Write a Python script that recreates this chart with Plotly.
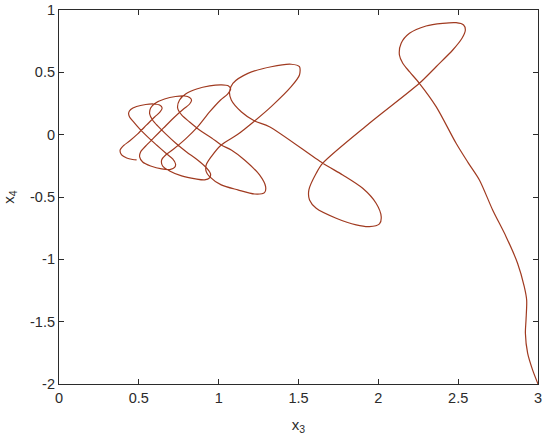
import plotly.graph_objects as go

# trajectory x3 (horizontal) and x4 (vertical)
x3 = [3.000, 2.966, 2.935, 2.921, 2.925, 2.929, 2.914, 2.872, 2.800, 2.716, 2.633, 2.560, 2.487, 2.362, 2.257,
      2.195, 2.153, 2.132, 2.143, 2.195, 2.299, 2.403, 2.487, 2.534, 2.545, 2.524, 2.466, 2.362, 2.257,
      1.944, 1.652,
      1.611, 1.565, 1.569, 1.611, 1.736, 1.861, 1.944, 2.007, 2.018, 1.986, 1.902, 1.777, 1.652,
      1.318, 1.225, 1.143, 1.079, 1.068, 1.089, 1.183, 1.329, 1.454, 1.506, 1.506, 1.454, 1.329, 1.225,
      1.120, 1.016,
      0.954, 0.922, 0.922, 0.943, 1.016, 1.120, 1.225, 1.287, 1.294, 1.256, 1.162, 1.079, 1.016,
      0.956, 0.880, 0.818, 0.768, 0.743, 0.755, 0.793, 0.862, 0.943, 1.018, 1.062, 1.075, 1.056, 1.012,
      0.943, 0.868, 0.793, 0.718, 0.668, 0.643,
      0.649, 0.693, 0.768, 0.855, 0.912, 0.943, 0.949, 0.924, 0.868, 0.799, 0.730, 0.668, 0.618, 0.586,
      0.568, 0.574, 0.605, 0.661, 0.730, 0.787, 0.818, 0.830, 0.818, 0.780, 0.724, 0.655, 0.593, 0.543,
      0.511, 0.505, 0.524, 0.574, 0.643, 0.699, 0.724, 0.730, 0.712, 0.668, 0.611, 0.555, 0.505, 0.467,
      0.442, 0.436, 0.449, 0.486, 0.543, 0.593, 0.630, 0.646, 0.633, 0.599, 0.549, 0.493, 0.442, 0.405,
      0.383, 0.392, 0.424, 0.461, 0.486]
x4 = [-2.000, -1.887, -1.753, -1.593, -1.486, -1.326, -1.219, -1.031, -0.818, -0.604, -0.363, -0.220, -0.069, 0.225, 0.412,
      0.505, 0.573, 0.639, 0.733, 0.813, 0.872, 0.893, 0.898, 0.880, 0.840, 0.773, 0.679, 0.545, 0.412,
      0.091, -0.229,
      -0.310, -0.443, -0.524, -0.590, -0.670, -0.724, -0.738, -0.716, -0.658, -0.550, -0.430, -0.323, -0.229,
      0.064, 0.110, 0.182, 0.278, 0.345, 0.412, 0.492, 0.545, 0.565, 0.545, 0.479, 0.385, 0.225, 0.110,
      0.003, -0.083,
      -0.176, -0.243, -0.297, -0.337, -0.403, -0.443, -0.476, -0.465, -0.417, -0.323, -0.203, -0.123, -0.083,
      -0.026, 0.038, 0.102, 0.158, 0.214, 0.278, 0.326, 0.366, 0.391, 0.399, 0.391, 0.366, 0.326, 0.278,
      0.182, 0.062, -0.034, -0.115, -0.163, -0.203,
      -0.251, -0.291, -0.331, -0.355, -0.363, -0.347, -0.315, -0.267, -0.203, -0.139, -0.067, 0.006, 0.070, 0.118,
      0.166, 0.214, 0.254, 0.286, 0.306, 0.310, 0.298, 0.278, 0.246, 0.206, 0.142, 0.054, -0.026, -0.091,
      -0.139, -0.179, -0.219, -0.251, -0.275, -0.279, -0.263, -0.235, -0.195, -0.147, -0.083, -0.018, 0.046, 0.102,
      0.142, 0.174, 0.202, 0.226, 0.242, 0.246, 0.238, 0.214, 0.182, 0.142, 0.078, 0.006, -0.051, -0.087,
      -0.123, -0.163, -0.187, -0.199, -0.203]

x_ticks = [0, 0.5, 1, 1.5, 2, 2.5, 3]
x_tick_labels = ["0", "0.5", "1", "1.5", "2", "2.5", "3"]
y_ticks = [-2, -1.5, -1, -0.5, 0, 0.5, 1]
y_tick_labels = ["-2", "-1.5", "-1", "-0.5", "0", "0.5", "1"]

FONT = "Liberation Sans, Arial, Helvetica, sans-serif"
AXC = "#2b2b2b"

fig = go.Figure()
fig.add_trace(go.Scatter(
    x=x3, y=x4, mode="lines",
    line=dict(color="#a03a20", width=1.2, shape="spline", smoothing=0.8),
    showlegend=False, hoverinfo="skip"))

axis_style = dict(
    showgrid=False, zeroline=False, showline=True, linecolor=AXC, linewidth=1.2,
    mirror="allticks", ticks="inside", ticklen=5, tickwidth=1, tickcolor=AXC,
    tickfont=dict(family=FONT, size=14.5, color=AXC),
)

fig.update_layout(
    width=550, height=444,
    margin=dict(l=59, r=12, t=10, b=60, autoexpand=False),
    paper_bgcolor="white", plot_bgcolor="white",
    xaxis=dict(range=[0, 3], tickvals=x_ticks, ticktext=x_tick_labels,
               title=dict(text="x<sub>3</sub>", standoff=14,
                          font=dict(family=FONT, size=15, color=AXC)),
               **axis_style),
    yaxis=dict(range=[-2, 1], tickvals=y_ticks, ticktext=y_tick_labels,
               title=dict(text="x<sub>4</sub>", standoff=12,
                          font=dict(family=FONT, size=15, color=AXC)),
               **axis_style),
)

fig.write_html("out.html", config={"displayModeBar": False},
               post_script="document.body.style.margin='0';document.body.style.overflow='hidden';")
